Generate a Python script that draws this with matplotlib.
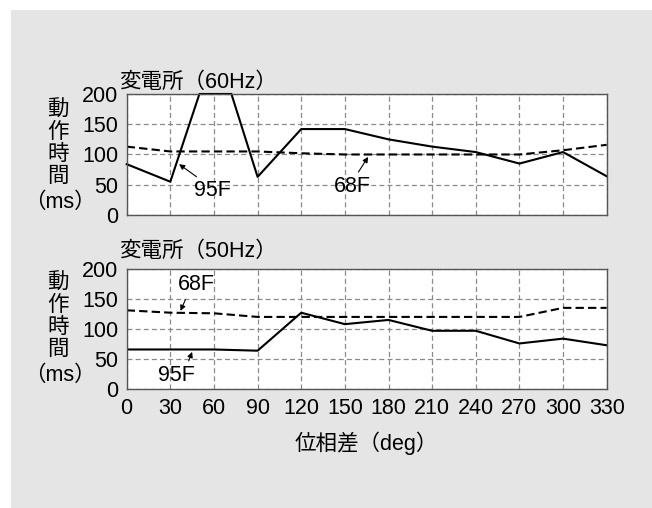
import matplotlib.pyplot as plt
from matplotlib.patches import Rectangle

plt.rcParams['font.family'] = ['Liberation Sans', 'Noto Sans CJK JP', 'DejaVu Sans']

# phase difference [deg]
deg = [0, 30, 60, 90, 120, 150, 180, 210, 240, 270, 300, 330]

# 60Hz substation
top95_x = [0, 30, 50, 72, 90, 120, 150, 180, 210, 240, 270, 300, 330]
top95_y = [84, 55, 200, 200, 63, 142, 142, 125, 113, 104, 85, 104, 64]
top68_y = [113, 105, 105, 105, 102, 100, 100, 100, 100, 100, 107, 116]

# 50Hz substation
bot95_y = [66, 66, 66, 64, 127, 108, 115, 97, 97, 76, 84, 73]
bot68_y = [131, 127, 126, 120, 120, 120, 120, 120, 120, 120, 135, 135]

yticks = [0, 50, 100, 150, 200]
FS = 15.5

fig = plt.figure(figsize=(6.52, 5.08), dpi=100)
fig.patch.set_facecolor('white')
fig.patches.append(Rectangle((11 / 652, 0), 1, 1 - 10 / 508, transform=fig.transFigure,
                             facecolor='#e5e5e5', edgecolor='none', zorder=-10))

ax1 = fig.add_axes([0.1943, 0.5768, 0.7362, 0.2382])
ax2 = fig.add_axes([0.1943, 0.2337, 0.7362, 0.2374])


def arrow(rel):
    return dict(arrowstyle='-|>', lw=0.8, mutation_scale=8, color='black',
                shrinkA=1, shrinkB=0, relpos=rel)


for ax in (ax1, ax2):
    ax.set_xlim(0, 330)
    ax.set_ylim(0, 200)
    ax.set_xticks(deg)
    ax.set_yticks(yticks)
    ax.tick_params(length=0, labelsize=FS, pad=6)
    ax.grid(True, color='#8a8a8a', lw=0.9, linestyle=(0, (4, 2.5)))
    ax.set_axisbelow(True)
    for s in ax.spines.values():
        s.set_color('#555555')
        s.set_linewidth(1.0)

ax1.set_xticklabels([])
ax1.plot(top95_x, top95_y, color='black', lw=1.5, clip_on=False)
ax1.plot(deg, top68_y, color='black', lw=1.5, dashes=(4, 2))
ax1.annotate('95F', xy=(36, 84), xytext=(59, 40), ha='center', va='center',
             fontsize=FS, arrowprops=arrow((0.2, 1)))
ax1.annotate('68F', xy=(166, 96), xytext=(155, 47), ha='center', va='center',
             fontsize=FS, arrowprops=arrow((0.6, 1)))

ax2.plot(deg, bot95_y, color='black', lw=1.5)
ax2.plot(deg, bot68_y, color='black', lw=1.5, dashes=(4, 2))
ax2.annotate('68F', xy=(37, 130), xytext=(48, 173), ha='center', va='center',
             fontsize=FS, arrowprops=arrow((0.25, 0)))
ax2.annotate('95F', xy=(45, 62), xytext=(34, 23), ha='center', va='center',
             fontsize=FS, arrowprops=arrow((0.8, 1)))
ax2.set_xlabel('位相差（deg）', fontsize=FS, labelpad=9)

# titles and stacked y labels
fig.text(119 / 652, 1 - 82 / 508, '変電所（60Hz）', fontsize=FS, ha='left', va='center')
fig.text(119 / 652, 1 - 251 / 508, '変電所（50Hz）', fontsize=FS, ha='left', va='center')

for y0 in (110, 283):
    for i, ch in enumerate('動作時間'):
        fig.text(58 / 652, 1 - (y0 + i * 22.2) / 508, ch, fontsize=FS, ha='center', va='center')
    fig.text(60 / 652, 1 - (y0 + 92) / 508, '（ms）', fontsize=FS, ha='center', va='center')

fig.savefig('out.png', dpi=100)
